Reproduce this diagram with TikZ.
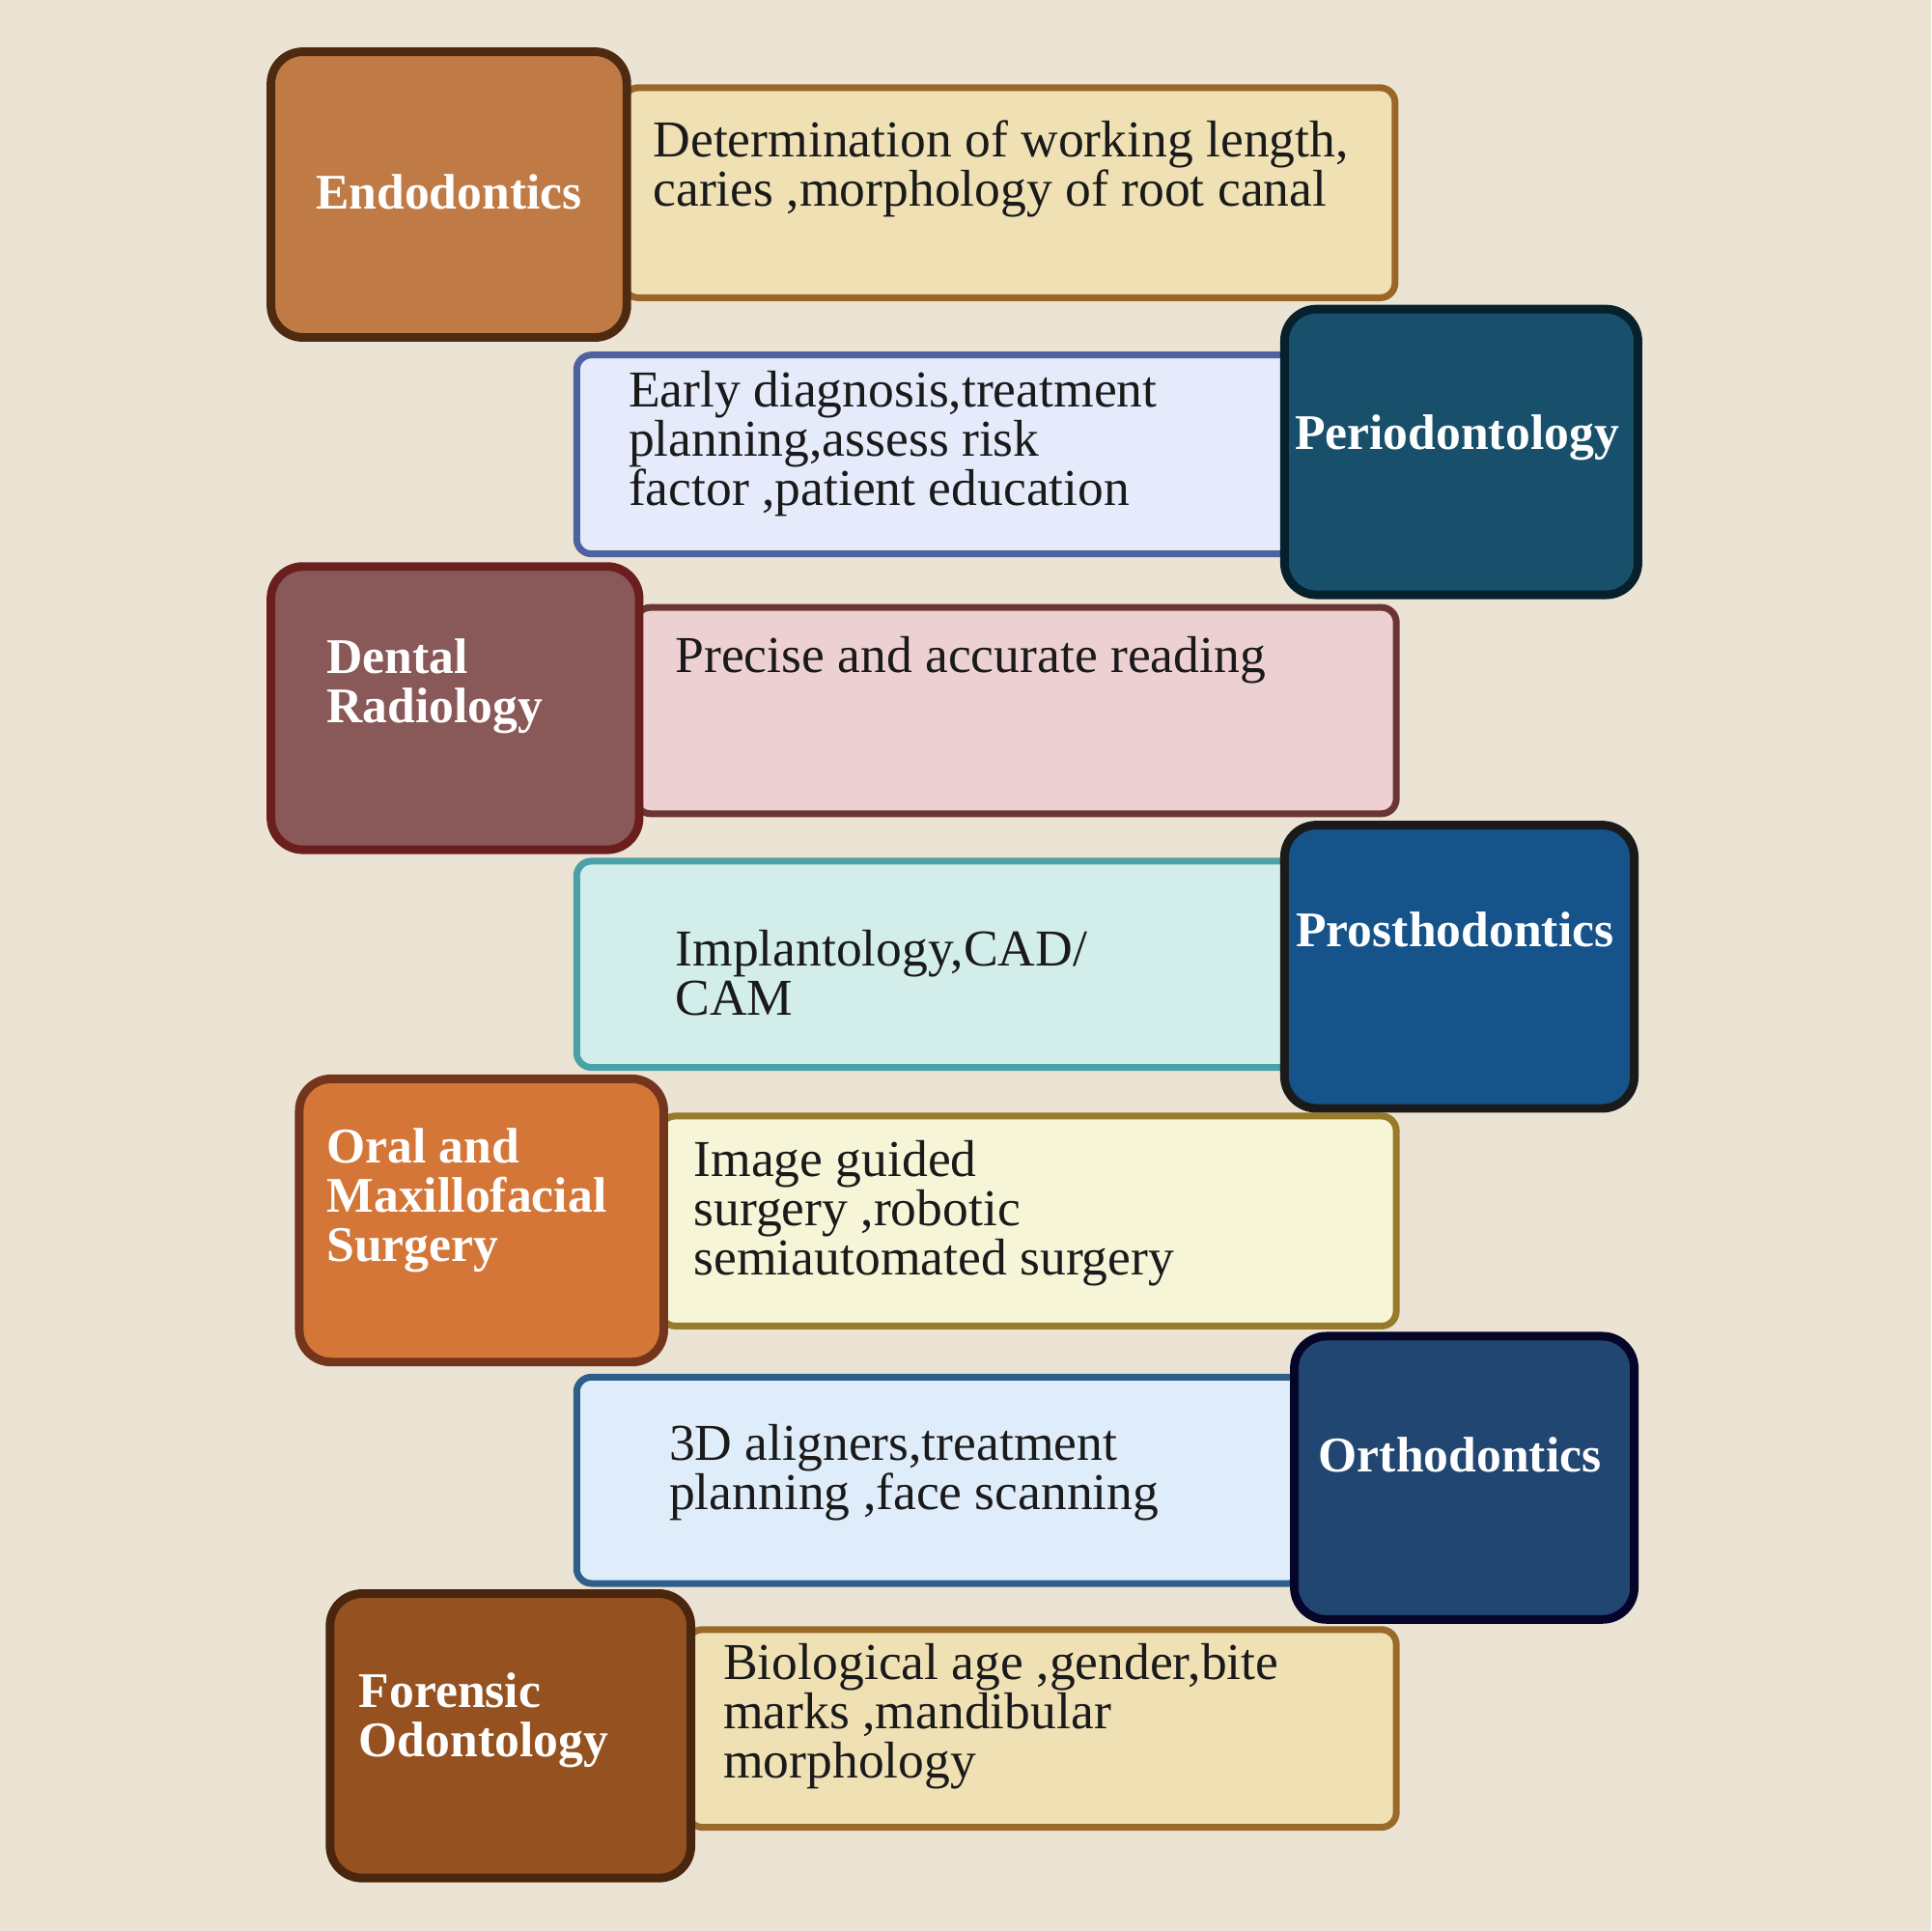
\documentclass[tikz,border=0pt]{standalone}
\usepackage{fontspec}
\setmainfont{Liberation Serif}
\definecolor{bgc}{HTML}{EBE4D4}
\definecolor{fA}{HTML}{C07A45}\definecolor{dA}{HTML}{4E2A10}
\definecolor{fa}{HTML}{F0E1B5}\definecolor{da}{HTML}{996628}
\definecolor{fB}{HTML}{18506C}\definecolor{dB}{HTML}{06202C}
\definecolor{fb}{HTML}{E5EBFA}\definecolor{db}{HTML}{4F62A0}
\definecolor{fC}{HTML}{895858}\definecolor{dC}{HTML}{6B1E1E}
\definecolor{fc}{HTML}{EDD0D2}\definecolor{dc}{HTML}{6B3535}
\definecolor{fD}{HTML}{15538A}\definecolor{dD}{HTML}{1A1A1A}
\definecolor{fd}{HTML}{D3EEEA}\definecolor{dd}{HTML}{4AA1A8}
\definecolor{fE}{HTML}{D37638}\definecolor{dE}{HTML}{73351B}
\definecolor{fe}{HTML}{F6F5D8}\definecolor{de}{HTML}{977A2A}
\definecolor{fF}{HTML}{224672}\definecolor{dF}{HTML}{05052A}
\definecolor{ff}{HTML}{DFECFA}\definecolor{df}{HTML}{2E5E8A}
\definecolor{fG}{HTML}{955220}\definecolor{dG}{HTML}{4A260E}
\definecolor{fg}{HTML}{F0E1B5}\definecolor{dg}{HTML}{9A6A2A}
\definecolor{txt}{HTML}{1A1A1A}
\tikzset{
  lblbox/.style={rectangle, rounded corners=13pt, line width=3.5pt, inner sep=0pt, outer sep=0pt},
  descbox/.style={rectangle, rounded corners=6pt, line width=2.75pt, inner sep=0pt, outer sep=0pt},
  desctext/.style={anchor=west, align=left, inner sep=0pt, text=txt, font=\fontsize{21}{20}\selectfont},
  lbltext/.style={align=left, inner sep=0pt, text=white, font=\fontsize{20.25}{20}\selectfont\bfseries}
}
\begin{document}
\begin{tikzpicture}[x=0.5pt,y=-0.5pt]
\fill[bgc] (0,0) rectangle (1568,1568);
\useasboundingbox (0,0) rectangle (1568,1568);
% description boxes
\node[descbox, fill=fa, draw=da, minimum width=313.25pt, minimum height=85.25pt] (d1) at (819.5,156.5) {};
\node[descbox, fill=fb, draw=db, minimum width=295.25pt, minimum height=80.75pt] (d2) at (763.5,369) {};
\node[descbox, fill=fc, draw=dc, minimum width=308.75pt, minimum height=83.75pt] (d3) at (825,577) {};
\node[descbox, fill=fd, draw=dd, minimum width=295.25pt, minimum height=83.75pt] (d4) at (763.5,783) {};
\node[descbox, fill=fe, draw=de, minimum width=298.75pt, minimum height=85.25pt] (d5) at (835,991.5) {};
\node[descbox, fill=ff, draw=df, minimum width=295.25pt, minimum height=83.75pt] (d6) at (763.5,1202) {};
\node[descbox, fill=fg, draw=dg, minimum width=287.75pt, minimum height=80.25pt] (d7) at (846,1403.5) {};
% label boxes
\node[lblbox, fill=fA, draw=dA, minimum width=144.5pt, minimum height=116pt] (l1) at (364.5,158) {};
\node[lblbox, fill=fB, draw=dB, minimum width=143.5pt, minimum height=116pt] (l2) at (1186.5,367) {};
\node[lblbox, fill=fC, draw=dC, minimum width=149.5pt, minimum height=115pt] (l3) at (369.5,575) {};
\node[lblbox, fill=fD, draw=dD, minimum width=142pt, minimum height=115pt] (l4) at (1185,785) {};
\node[lblbox, fill=fE, draw=dE, minimum width=148pt, minimum height=115pt] (l5) at (391,991) {};
\node[lblbox, fill=fF, draw=dF, minimum width=138pt, minimum height=115pt] (l6) at (1189,1200) {};
\node[lblbox, fill=fG, draw=dG, minimum width=146.5pt, minimum height=115.5pt] (l7) at (414.5,1409.5) {};
% description texts
\node[desctext] (t1) at (530,137) {Determination of working length,\\caries ,morphology of root canal};
\node[desctext] (t2) at (510,360) {Early diagnosis,treatment\\planning,assess risk\\factor ,patient education};
\node[desctext] (t3) at (548,536) {Precise and accurate reading};
\node[desctext] (t4) at (548,790) {Implantology,CAD/\\CAM};
\node[desctext] (t5) at (563,985) {Image guided\\surgery ,robotic\\semiautomated surgery};
\node[desctext] (t6) at (543,1196) {3D aligners,treatment\\planning ,face scanning};
\node[desctext] (t7) at (587,1394) {Biological age ,gender,bite\\marks ,mandibular\\morphology};
% label texts
\node[lbltext] (s1) at (364.5,156) {Endodontics};
\node[lbltext] (s2) at (1183,355) {Periodontology};
\node[lbltext, anchor=west] (s3) at (265,557) {Dental\\Radiology};
\node[lbltext, anchor=west] (s4) at (1052,755) {Prosthodontics};
\node[lbltext, anchor=west] (s5) at (265,975) {Oral and\\Maxillofacial\\Surgery};
\node[lbltext] (s6) at (1185.5,1181) {Orthodontics};
\node[lbltext, anchor=west] (s7) at (291,1397) {Forensic\\Odontology};
\end{tikzpicture}
\end{document}
